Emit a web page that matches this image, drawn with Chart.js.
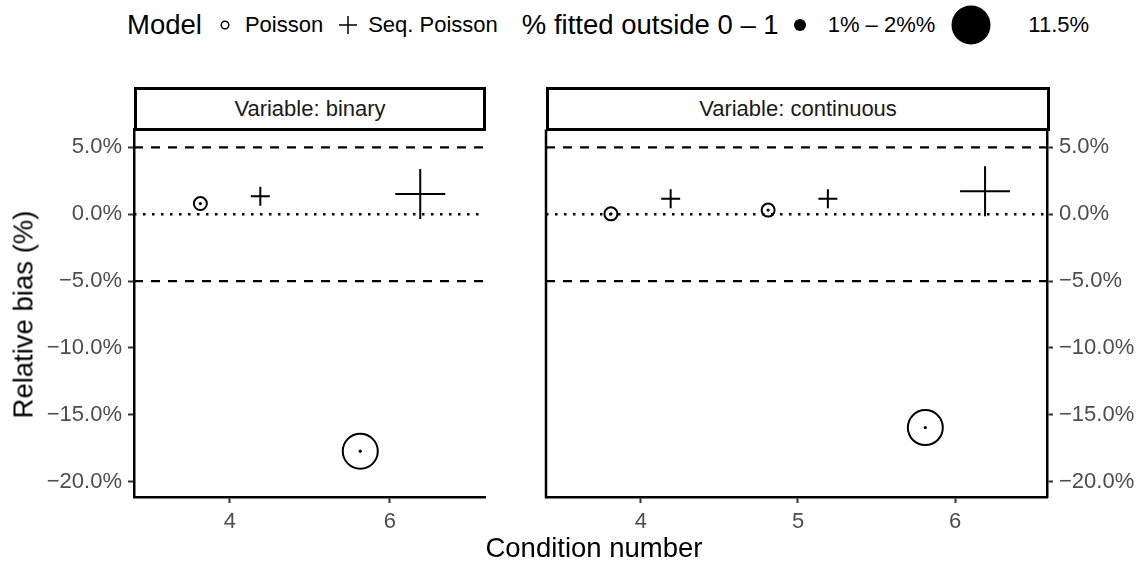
<!DOCTYPE html>
<html>
<head>
<meta charset="utf-8">
<script src="https://cdn.jsdelivr.net/npm/chart.js@4/dist/chart.umd.min.js"></script>
<style>
  body { margin: 0; background: #fff; font-family: "Liberation Sans", Arial, sans-serif; }
  #wrap { position: relative; width: 1142px; height: 564px; overflow: hidden; background: #fff; }
  canvas { position: absolute; }
  .strip { position: absolute; box-sizing: border-box; border: 3px solid #000; background: #fff;
           font-size: 22px; color: #1a1a1a; display: flex; align-items: center; justify-content: center; }
  #legend { position: absolute; top: 5px; left: 127px; height: 40px;
            display: flex; align-items: center; color: #000; white-space: nowrap; }
  #legend .lt { font-size: 27.5px; }
  #legend .ll { font-size: 22px; }
  #legend svg { display: block; }
  .axtitle { position: absolute; font-size: 27.5px; line-height: 27px; color: #000; white-space: nowrap; }
</style>
</head>
<body>
<div id="wrap">
  <div id="legend"></div>
  <div class="strip" style="left:134px;top:87px;width:352px;height:44px;">Variable: binary</div>
  <div class="strip" style="left:546px;top:87px;width:504px;height:44px;">Variable: continuous</div>
  <canvas id="binary" width="500" height="446" style="left:0;top:118px;"></canvas>
  <canvas id="continuous" width="612" height="446" style="left:530px;top:118px;"></canvas>
  <div class="axtitle" id="xtitle" style="top:534px;left:0;width:1188px;text-align:center;">Condition number</div>
  <div class="axtitle" id="ytitle" style="left:-187px;top:301px;width:420px;text-align:center;transform:rotate(-90deg);">Relative bias (%)</div>
</div>
<script>
// tick labels and reference lines
const biasTicks = [-20, -15, -10, -5, 0, 5];
const binaryTicks = [4, 6];
const continuousTicks = [4, 5, 6];
const dashedLines = [-5, 5];
const dottedLines = [0];

// legend entries
const modelLabels = ["Poisson", "Seq. Poisson"];
const sizeLabels = ["1% – 2%%", "11.5%"];

// Variable: binary
const binPoissonX = [3.63, 5.63];
const binPoissonY = [0.80, -17.73];
const binPoissonSize = ["1% – 2%%", "11.5%"];
const binSeqX = [4.38, 6.38];
const binSeqY = [1.35, 1.52];
const binSeqSize = ["1% – 2%%", "11.5%"];

// Variable: continuous
const conPoissonX = [3.81, 4.81, 5.81];
const conPoissonY = [0.03, 0.31, -15.96];
const conPoissonSize = ["1% – 2%%", "1% – 2%%", "11.5%"];
const conSeqX = [4.19, 5.19, 6.19];
const conSeqY = [1.15, 1.15, 1.72];
const conSeqSize = ["1% – 2%%", "1% – 2%%", "11.5%"];

const circleRadius = { "1% – 2%%": 6.5, "11.5%": 17.5 };
const crossRadius = { "1% – 2%%": 9.5, "11.5%": 25 };

const FONT = "'Liberation Sans', Arial, sans-serif";
const Y_MIN = -21.155, Y_MAX = 6.34;

function fmtPct(v) {
  return (v < 0 ? "\u2212" : "") + Math.abs(v).toFixed(1) + "%";
}

function pts(xs, ys) {
  return xs.map((x, i) => ({ x: x, y: ys[i] }));
}

function refLine(v, xmin, xmax, dash, w) {
  return {
    type: "line", data: [{ x: xmin, y: v }, { x: xmax, y: v }],
    borderColor: "#000", borderWidth: w, borderDash: dash, borderCapStyle: "butt",
    pointRadius: 0, order: 3, fill: false
  };
}

// draws the plain left edge of the right-hand panel
const panelEdge = {
  id: "panelEdge",
  afterDraw(chart, args, opts) {
    if (!opts.left) return;
    const { ctx, chartArea } = chart;
    ctx.save();
    ctx.strokeStyle = "#000";
    ctx.lineWidth = 2.5;
    ctx.beginPath();
    ctx.moveTo(chartArea.left, chartArea.top);
    ctx.lineTo(chartArea.left, chartArea.bottom + 1.2);
    ctx.stroke();
    ctx.restore();
  }
};

function makeChart(id, cfg) {
  const datasets = [];
  dashedLines.forEach(v => datasets.push(refLine(v, cfg.xmin, cfg.xmax, [9, 8], 2.2)));
  dottedLines.forEach(v => datasets.push(refLine(v, cfg.xmin, cfg.xmax, [2.5, 6.5], 2.5)));
  datasets.push({
    label: "Poisson", data: pts(cfg.px, cfg.py), pointStyle: "circle",
    pointRadius: cfg.psize.map(s => circleRadius[s]), pointHoverRadius: cfg.psize.map(s => circleRadius[s]),
    pointBorderWidth: 2, pointBackgroundColor: "rgba(0,0,0,0)", pointBorderColor: "#000", order: 1
  });
  datasets.push({
    label: "Poisson centre", data: pts(cfg.px, cfg.py), pointStyle: "circle",
    pointRadius: 1.6, pointBorderWidth: 0, pointBackgroundColor: "#000", order: 1
  });
  datasets.push({
    label: "Seq. Poisson", data: pts(cfg.sx, cfg.sy), pointStyle: "cross",
    pointRadius: cfg.ssize.map(s => crossRadius[s]), pointHoverRadius: cfg.ssize.map(s => crossRadius[s]),
    pointBorderWidth: 2, pointBorderColor: "#000", order: 1
  });

  return new Chart(document.getElementById(id), {
    type: "scatter",
    data: { datasets: datasets },
    plugins: [panelEdge],
    options: {
      responsive: false,
      animation: false,
      events: [],
      layout: { padding: cfg.padding, autoPadding: false },
      plugins: { legend: { display: false }, tooltip: { enabled: false }, panelEdge: { left: cfg.edge } },
      scales: {
        x: {
          type: "linear", min: cfg.xmin, max: cfg.xmax,
          afterBuildTicks: s => { s.ticks = cfg.xticks.map(v => ({ value: v })); },
          afterFit: s => { s.height = 67; },
          ticks: { font: { family: FONT, size: 22 }, color: "#4d4d4d", padding: 6, callback: v => String(v) },
          grid: { display: true, drawOnChartArea: false, drawTicks: true, tickLength: 6, tickColor: "#333", tickWidth: 2 },
          border: { display: true, color: "#000", width: 2.5 }
        },
        y: {
          type: "linear", position: cfg.ypos, min: Y_MIN, max: Y_MAX,
          afterBuildTicks: s => { s.ticks = biasTicks.map(v => ({ value: v })); },
          afterFit: s => { s.width = cfg.ywidth; },
          // small lineHeight keeps the labels from pushing the panel top down
          ticks: { font: { family: FONT, size: 22, lineHeight: 0.5 }, color: "#4d4d4d", padding: 6, callback: v => fmtPct(v) },
          grid: { display: true, drawOnChartArea: false, drawTicks: true, tickLength: 6, tickColor: "#333", tickWidth: 2 },
          border: { display: true, color: "#000", width: 2.5 }
        }
      }
    }
  });
}

makeChart("binary", {
  xmin: 2.8, xmax: 7.19, xticks: binaryTicks, ypos: "left", ywidth: 134, edge: false,
  padding: { left: 0, top: 10, right: 15, bottom: 0 },
  px: binPoissonX, py: binPoissonY, psize: binPoissonSize,
  sx: binSeqX, sy: binSeqY, ssize: binSeqSize
});

makeChart("continuous", {
  xmin: 3.397, xmax: 6.584, xticks: continuousTicks, ypos: "right", ywidth: 95, edge: true,
  padding: { left: 16, top: 10, right: 0, bottom: 0 },
  px: conPoissonX, py: conPoissonY, psize: conPoissonSize,
  sx: conSeqX, sy: conSeqY, ssize: conSeqSize
});

// legend built from the label arrays
function keySvg(w, inner) {
  return '<svg width="' + w + '" height="40" viewBox="0 0 ' + w + ' 40">' + inner + '</svg>';
}
function gap(w) { return '<span style="display:inline-block;width:' + w + 'px"></span>'; }
const modelKeys = [
  keySvg(30, '<circle cx="15" cy="20" r="3.8" fill="none" stroke="#000" stroke-width="1.4"/>'),
  keySvg(30, '<path d="M6 20H24M15 11V29" stroke="#000" stroke-width="1.5"/>')
];
const sizeKeys = [
  keySvg(42, '<circle cx="21" cy="20" r="6" fill="#000"/>'),
  keySvg(42, '<circle cx="21" cy="20" r="19.5" fill="#000"/>')
];
const sizeGaps = [[7, 15], [36, 0]];
let html = '<span class="lt">Model</span>' + gap(8);
modelLabels.forEach((l, i) => {
  html += modelKeys[i] + gap(5) + '<span class="ll">' + l + '</span>' + gap(i < modelLabels.length - 1 ? 10 : 24);
});
html += '<span class="lt">% fitted outside 0 – 1</span>';
sizeLabels.forEach((l, i) => {
  html += sizeKeys[i] + gap(sizeGaps[i][0]) + '<span class="ll">' + l + '</span>' + gap(sizeGaps[i][1]);
});
document.getElementById("legend").innerHTML = html;
</script>
</body>
</html>
